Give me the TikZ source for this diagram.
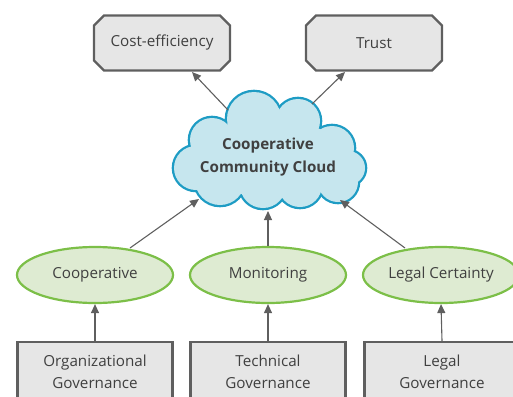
\documentclass[tikz,border=0pt]{standalone}
\usepackage{fontspec}
\setmainfont{Open Sans}
\usetikzlibrary{shapes.misc,shapes.geometric,arrows.meta}
\definecolor{boxfill}{HTML}{E6E6E6}
\definecolor{boxline}{HTML}{5F5F5F}
\definecolor{cloudfill}{HTML}{C6E6EE}
\definecolor{cloudline}{HTML}{1E9CC4}
\definecolor{ellfill}{HTML}{DEEBD2}
\definecolor{ellline}{HTML}{7CBF48}
\definecolor{txt}{HTML}{404040}
\tikzset{
  goalbox/.style={chamfered rectangle, chamfered rectangle xsep=5pt, chamfered rectangle ysep=5pt,
    draw=boxline, fill=boxfill, line width=2.2pt, minimum width=136pt, minimum height=55pt,
    inner sep=0pt, font=\fontsize{15.2}{18}\selectfont, text=txt},
  basebox/.style={rectangle, draw=boxline, fill=boxfill, line width=2.2pt, minimum width=155pt,
    minimum height=60pt, inner sep=0pt, align=center, font=\fontsize{15.2}{22}\selectfont, text=txt},
  factor/.style={ellipse, draw=ellline, fill=ellfill, line width=2.2pt, minimum width=156pt,
    minimum height=56pt, inner sep=0pt, font=\fontsize{15.2}{18}\selectfont, text=txt},
  cloudtext/.style={align=center, inner sep=0pt, font=\bfseries\fontsize{15.2}{23}\selectfont, text=txt},
  link/.style={draw=boxline, line width=1.1pt, -{Triangle[length=9pt,width=8pt]}}
}
% one puff of the cloud: centre and radius
\newcommand{\puffs}[1]{%
  \foreach \px/\py/\pr in {254/119/27, 298/121/22, 332/148/22, 348/168/17, 338/182/20,
      300/185/22, 263/185/23, 220/180/25, 196/168/22, 212/140/22} {#1 (\px,\py) circle (\pr);}}
\begin{document}
\begin{tikzpicture}[x=1pt,y=-1pt]
\useasboundingbox (0,0) rectangle (513,396);
% cloud: thick outline of every puff, then the fill over the inner half
\puffs{\draw[cloudline, line width=4.6pt]}
\puffs{\fill[cloudfill]}
\fill[cloudfill] (268,158) ellipse (80 and 38);
\node[cloudtext] (ccc) at (268,157) {Cooperative\\Community Cloud};
\node[goalbox] (cost) at (162,43) {Cost-efficiency};
\node[goalbox] (trust) at (374,43) {Trust};
\node[factor] (coop) at (95,275) {Cooperative};
\node[factor] (mon) at (268,275) {Monitoring};
\node[factor] (legal) at (441,275) {Legal Certainty};
\node[basebox] (org) at (95,372) {Organizational\\Governance};
\node[basebox] (tech) at (268,372) {Technical\\Governance};
\node[basebox] (lgov) at (442,372) {Legal\\Governance};
% connector end points on the outlines
\coordinate (c1) at (228,110);
\coordinate (c2) at (312,104);
\coordinate (t1) at (192,72);
\coordinate (t2) at (345,72);
\coordinate (e1) at (130,248);
\coordinate (e3) at (405,248);
\coordinate (b1) at (199,199);
\coordinate (b2) at (268,211);
\coordinate (b3) at (340,200);
\draw[link] (c1) -- (t1);
\draw[link] (c2) -- (t2);
\draw[link] (e1) -- (b1);
\draw[link] (mon.north) -- (b2);
\draw[link] (e3) -- (b3);
\draw[link] (org.north) -- (coop.south);
\draw[link] (tech.north) -- (mon.south);
\draw[link] (lgov.north) -- (legal.south);
\end{tikzpicture}
\end{document}
